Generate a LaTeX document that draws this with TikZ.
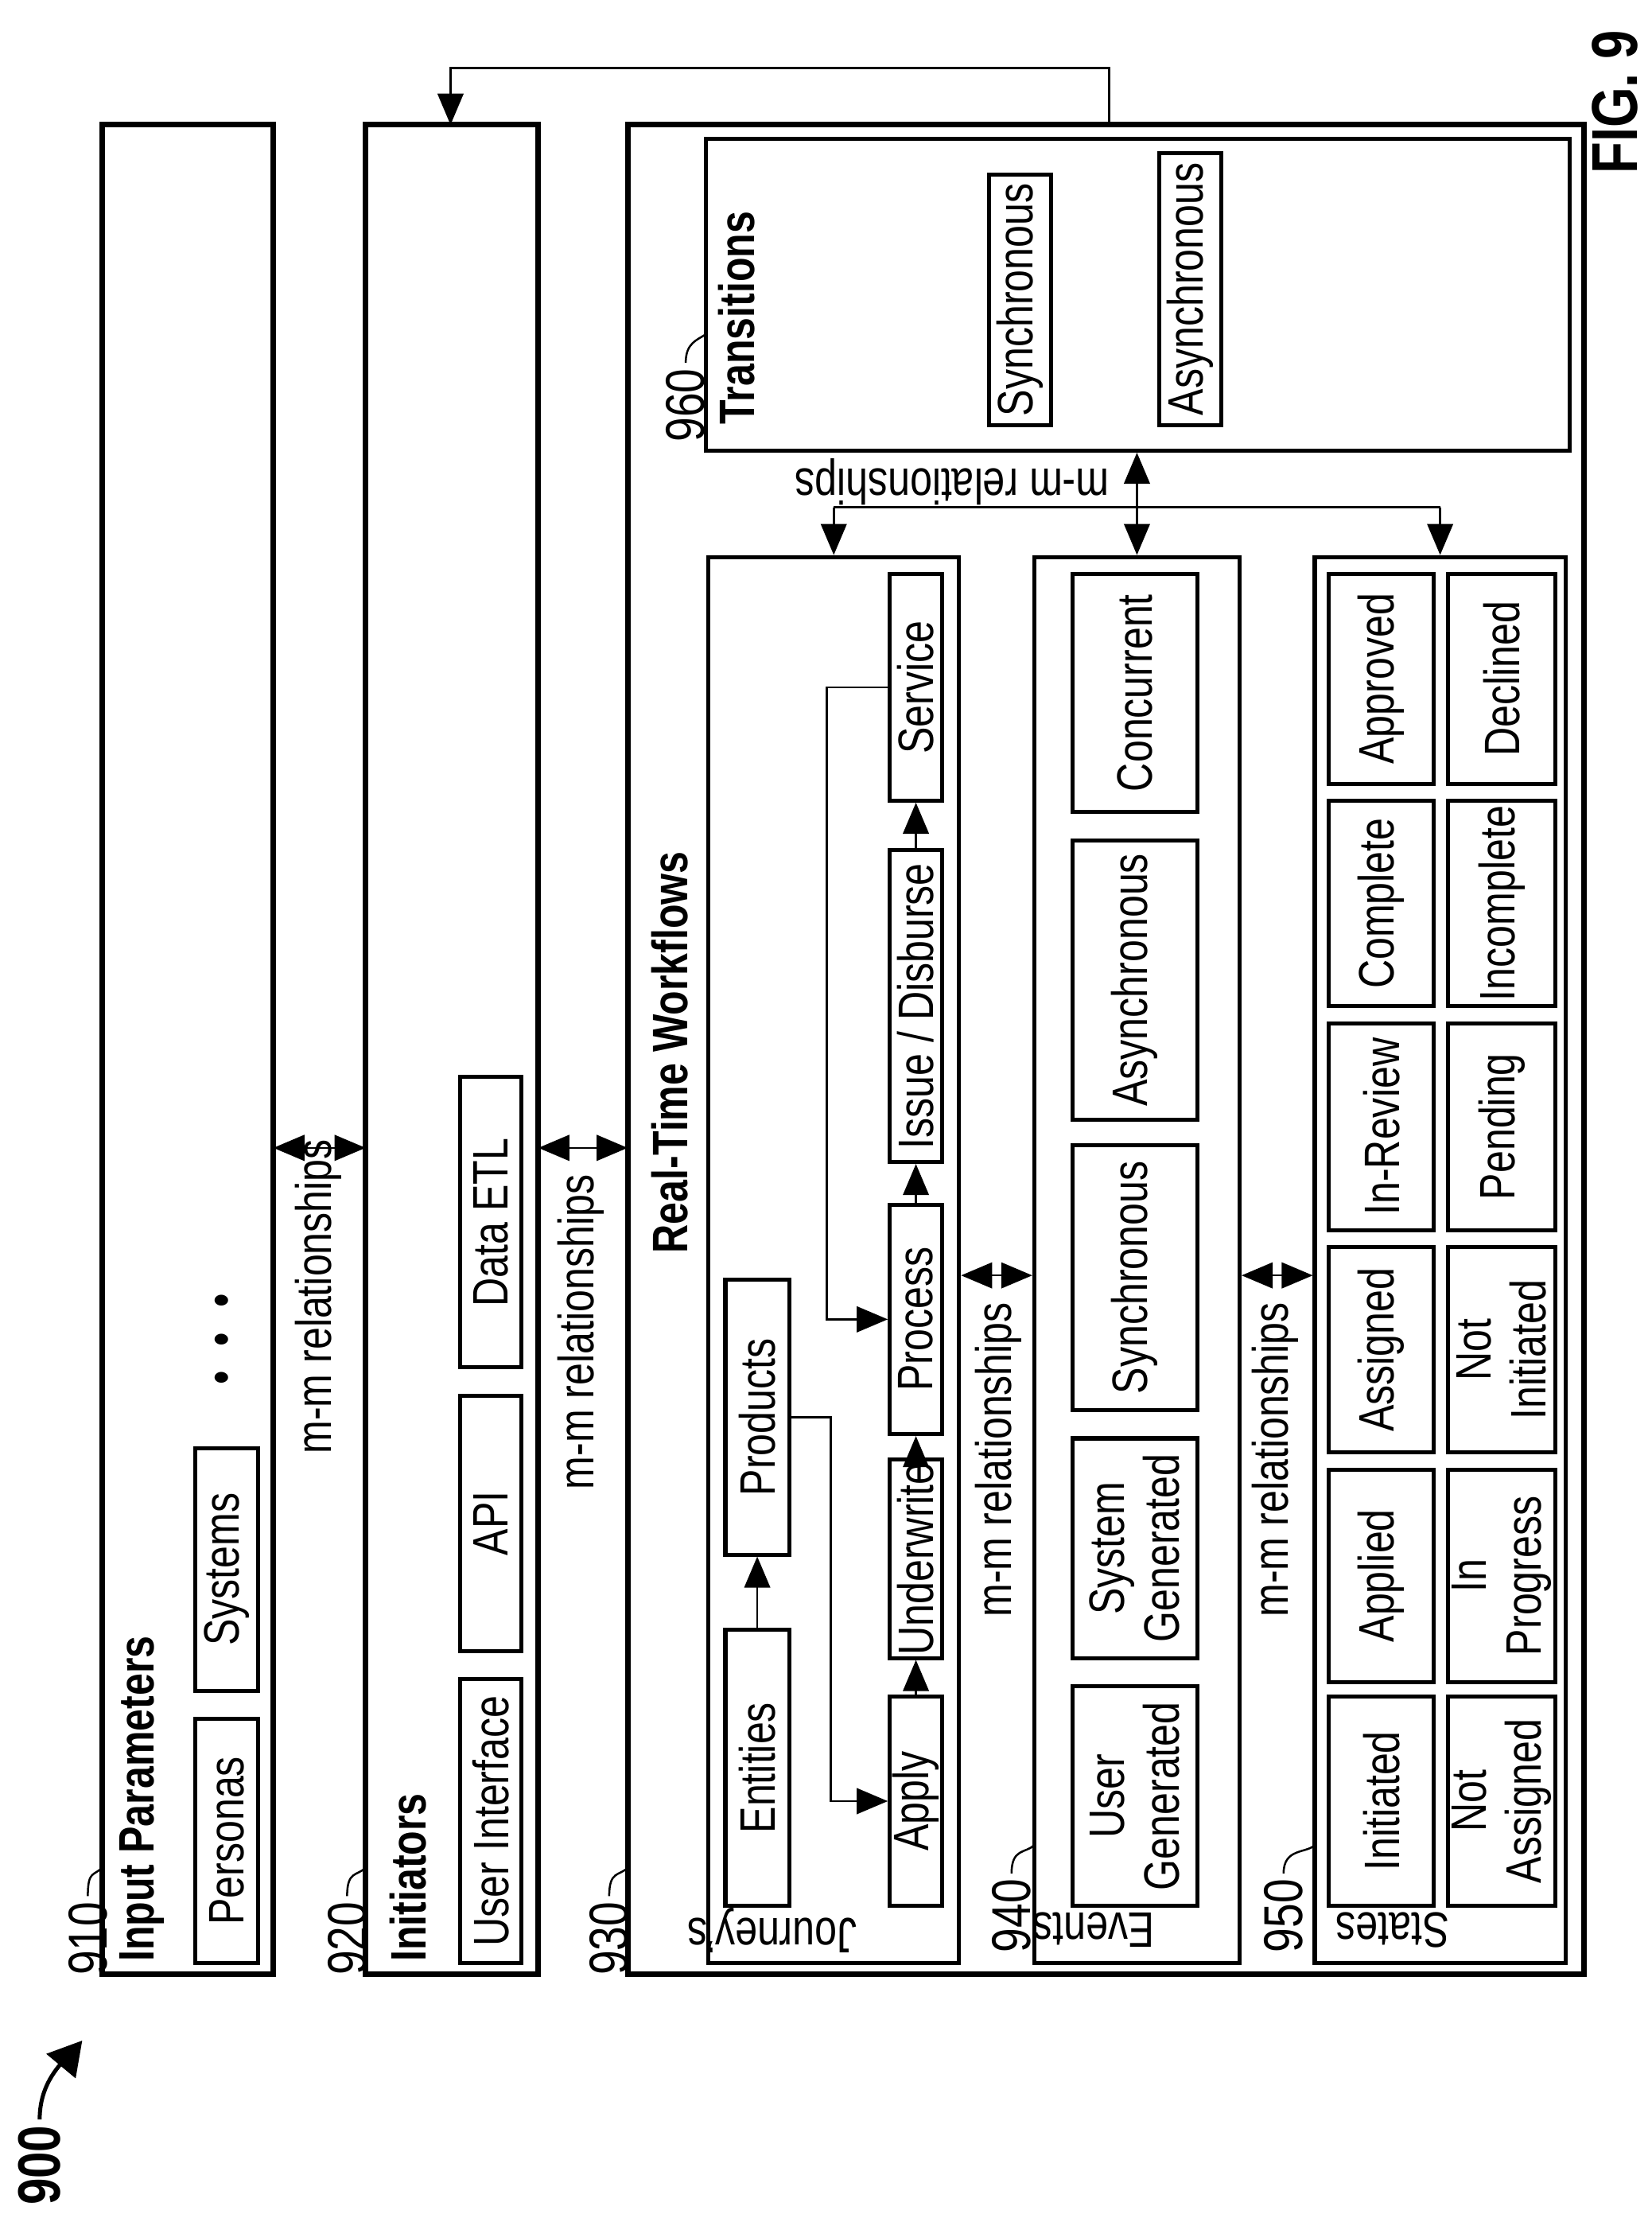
\documentclass[tikz,border=0pt]{standalone}
\usepackage{fontspec}
\setmainfont[FakeStretch=0.8]{Liberation Sans}
\usepackage{tikz}
\usetikzlibrary{arrows}

% box from corner (x1,y1) to (x2,y2), text turned to read upward
\newcommand{\bx}[7][]{%
  \node[cell,#1,minimum width={(#6-#4)*0.01cm},minimum height={(#5-#3)*0.01cm}]
    (#2) at ({(#3+#5)/2},{(#4+#6)/2}) {#7};}

\begin{document}
\begin{tikzpicture}[x=0.01cm,y=-0.01cm,>=triangle 45,
  cell/.style={draw,thick,rotate=90,inner sep=0pt,align=center,
    font=\fontsize{10}{11}\selectfont},
  frame/.style={line width=1.1pt},
  title/.style={rotate=90,anchor=west,inner sep=0pt,
    font=\fontsize{10}{12}\selectfont\bfseries},
  num/.style={rotate=90,inner sep=1pt,font=\fontsize{11}{12}\selectfont},
  rel/.style={rotate=90,inner sep=0pt,font=\fontsize{10}{12}\selectfont},
  flip/.style={rotate=180,inner sep=0pt,font=\fontsize{10}{12}\selectfont}]
	\useasboundingbox (0,0) rectangle (1166,1568);

	% outer frames
	\coordinate (f910) at (72,88);   \coordinate (g910) at (193,1393);
	\coordinate (f920) at (258,88);  \coordinate (g920) at (380,1393);
	\coordinate (f930) at (443,88);  \coordinate (g930) at (1118,1393);
	\draw[frame] (f910) rectangle (g910);
	\draw[frame] (f920) rectangle (g920);
	\draw[frame] (f930) rectangle (g930);

	\node[title] (t910) at (100,1385) {Input Parameters};
	\node[title] (t920) at (288,1385) {Initiators};
	\node[title] (t930) at (473,885) {Real-Time Workflows};

	\bx{pers}{138}{1213}{182}{1385}{Personas}
	\bx{sys}{138}{1022}{182}{1193}{Systems}
	\node[rel] (dots) at (160,945) {\textbullet\,\,\,\textbullet\,\,\,\textbullet};

	\bx{ui}{325}{1185}{368}{1385}{User Interface}
	\bx{api}{325}{985}{368}{1165}{API}
	\bx{etl}{325}{760}{368}{965}{Data ETL}

	% journeys
	\bx{jour}{500}{393}{677}{1385}{}
	\node[flip] (tjour) at (545,1362) {Journey's};
	\bx{ent}{512}{1150}{557}{1345}{Entities}
	\bx{prod}{512}{903}{557}{1097}{Products}
	\bx{apply}{628}{1197}{665}{1345}{Apply}
	\bx{under}{628}{1030}{665}{1170}{Underwrite}
	\bx{proc}{628}{850}{665}{1012}{Process}
	\bx{issue}{628}{600}{665}{820}{Issue / Disburse}
	\bx{serv}{628}{405}{665}{565}{Service}

	\draw[->] (ent.east) -- (prod.west);
	\draw[->] (apply.east) -- (under.west);
	\draw[->] (under.east) -- (proc.west);
	\draw[->] (proc.east) -- (issue.west);
	\draw[->] (issue.east) -- (serv.west);
	\draw[->] (prod.south) -- ++(28,0) |- (apply.north);
	\draw[->] (serv.north) -- ++(-43,0) |- (proc.north);

	% events
	\bx{ev}{730}{393}{875}{1385}{}
	\node[flip] (tev) at (772,1362) {Events};
	\bx{usr}{757}{1190}{845}{1345}{User\\Generated}
	\bx{sysg}{757}{1015}{845}{1170}{System\\Generated}
	\bx{esyn}{757}{808}{845}{995}{Synchronous}
	\bx{easy}{757}{593}{845}{790}{Asynchronous}
	\bx{conc}{757}{405}{845}{573}{Concurrent}

	% states
	\bx{st}{928}{393}{1105}{1385}{}
	\node[flip] (tst) at (983,1362) {States};
	\bx{s11}{938}{1197}{1012}{1345}{Initiated}
	\bx{s12}{1022}{1197}{1098}{1345}{Not\\Assigned}
	\bx{s21}{938}{1037}{1012}{1187}{Applied}
	\bx{s22}{1022}{1037}{1098}{1187}{In\\Progress}
	\bx{s31}{938}{880}{1012}{1025}{Assigned}
	\bx{s32}{1022}{880}{1098}{1025}{Not\\Initiated}
	\bx{s41}{938}{722}{1012}{868}{In-Review}
	\bx{s42}{1022}{722}{1098}{868}{Pending}
	\bx{s51}{938}{565}{1012}{710}{Complete}
	\bx{s52}{1022}{565}{1098}{710}{Incomplete}
	\bx{s61}{938}{405}{1012}{553}{Approved}
	\bx{s62}{1022}{405}{1098}{553}{Declined}

	% transitions
	\bx{b960}{498}{98}{1108}{318}{}
	\node[title] (t960) at (520,300) {Transitions};
	\bx{tsyn}{698}{123}{742}{300}{Synchronous}
	\bx{tasy}{818}{108}{862}{300}{Asynchronous}

	% m-m relationships
	\coordinate (m1) at (0,810);
	\coordinate (m2) at (0,900);
	\coordinate (m3) at (0,358);
	\coordinate (m4) at (0,48);
	\draw[<->] (m1 -| g910) -- (m1 -| f920);
	\draw[<->] (m1 -| g920) -- (m1 -| f930);
	\draw[<->] (m2 -| jour.south) -- (m2 -| ev.north);
	\draw[<->] (m2 -| ev.south) -- (m2 -| st.north);
	\node[rel] (r1) at (225,915) {m-m relationships};
	\node[rel] (r2) at (410,940) {m-m relationships};
	\node[rel] (r3) at (705,1030) {m-m relationships};
	\node[rel] (r4) at (900,1030) {m-m relationships};
	\node[flip] (r5) at (672,340) {m-m relationships};
	\draw (jour.east |- m3) -- (st.east |- m3);
	\draw[->] (jour.east |- m3) -- (jour.east);
	\draw[->] (st.east |- m3) -- (st.east);
	\draw[<->] (b960.west -| ev.east) -- (ev.east);

	\coordinate (c930) at (783,88);
	\coordinate (c920) at (318,88);
	\draw[->] (c930) -- (c930 |- m4) -- (c920 |- m4) -- (c920);

	% reference numerals
	\node[num] (l910) at (62,1368) {910};
	\node[num] (l920) at (245,1368) {920};
	\node[num] (l930) at (430,1368) {930};
	\node[num] (l940) at (714,1352) {940};
	\node[num] (l950) at (906,1352) {950};
	\node[num] (l960) at (484,286) {960};
	\draw (l910.east) .. controls +(0,-18) and +(-6,6) .. (72,1318);
	\draw (l920.east) .. controls +(0,-18) and +(-6,6) .. (258,1318);
	\draw (l930.east) .. controls +(0,-18) and +(-6,6) .. (443,1318);
	\draw (l940.east) .. controls +(0,-18) and +(-6,6) .. (730,1302);
	\draw (l950.east) .. controls +(0,-18) and +(-6,6) .. (928,1302);
	\draw (l960.east) .. controls +(0,-14) and +(-6,4) .. (498,236);

	\node[num,font=\fontsize{12}{12}\selectfont\bfseries] (l900) at (28,1528) {900};
	\draw[-triangle 60,thick] (l900.east) .. controls +(0,-30) and +(-10,12) .. (58,1440);
	\node[num,font=\fontsize{13}{13}\selectfont\bfseries] (fig) at (1140,72) {FIG. 9};
\end{tikzpicture}
\end{document}
